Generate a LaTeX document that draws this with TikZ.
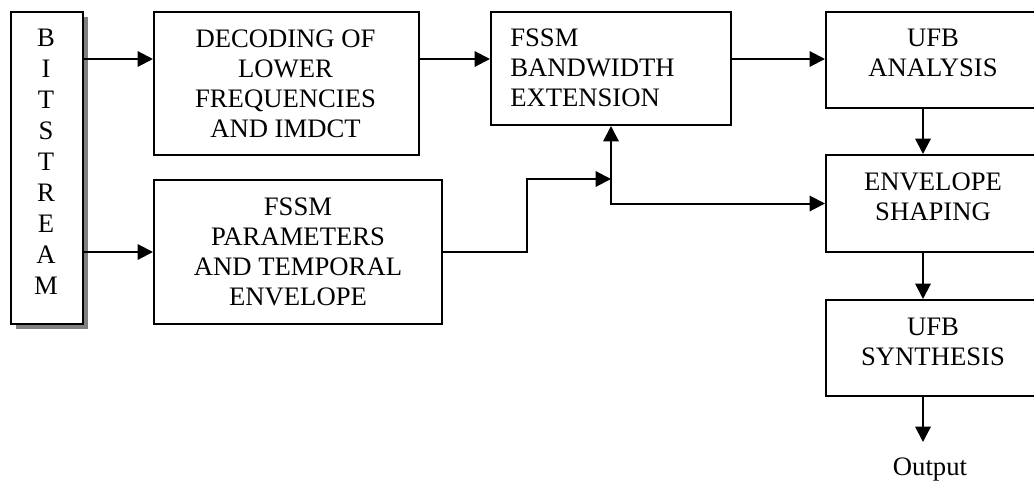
\documentclass[tikz,border=0pt]{standalone}
\usepackage{fontspec}
\setmainfont{Liberation Serif}
\usetikzlibrary{arrows.meta,shadows}
\definecolor{shadowc}{RGB}{128,128,128}
\begin{document}
\begin{tikzpicture}[x=0.75pt,y=-0.75pt,
  box/.style={draw, fill=white, line width=1.5pt, inner sep=0pt, anchor=north west},
  txt/.style={align=center, inner sep=0pt, font=\fontsize{20}{22.5}\selectfont},
  arr/.style={line width=1.5pt, -{Triangle[length=11.5pt,width=11.5pt]}}]
\useasboundingbox (0,0) rectangle (1034,482);
\clip (0,0) rectangle (1034,482);
% boxes
\node[box, minimum width=54pt, minimum height=234pt,
  drop shadow={shadow xshift=4pt, shadow yshift=-4pt, fill=shadowc, opacity=1}] (bits) at (10,11) {};
\node[box, minimum width=198.75pt, minimum height=107.25pt] (dec) at (153,11) {};
\node[box, minimum width=216pt, minimum height=108pt] (par) at (153,179) {};
\node[box, minimum width=180pt, minimum height=84.75pt] (bwe) at (490,11) {};
\node[box, minimum width=162pt, minimum height=72pt] (ana) at (825,11) {};
\node[box, minimum width=162pt, minimum height=72.75pt] (env) at (825,154) {};
\node[box, minimum width=162pt, minimum height=72pt] (syn) at (825,299) {};
% texts
\node[txt, font=\fontsize{20}{23.25}\selectfont] (bitsT) at (46,161.5) {B\\I\\T\\S\\T\\R\\E\\A\\M};
\node[txt] (decT) at (285.5,84) {DECODING OF\\LOWER\\FREQUENCIES\\AND IMDCT};
\node[txt] (parT) at (298,252) {FSSM\\PARAMETERS\\AND TEMPORAL\\ENVELOPE};
\node[txt, align=left, anchor=west] (bweT) at (510,68) {FSSM\\BANDWIDTH\\EXTENSION};
\node[txt] (anaT) at (933,53) {UFB\\ANALYSIS};
\node[txt] (envT) at (933,197) {ENVELOPE\\SHAPING};
\node[txt] (synT) at (933,342) {UFB\\SYNTHESIS};
\node[txt, inner xsep=0pt, inner ysep=12pt, anchor=north] (out) at (930,442) {Output};
% connectors
\coordinate (r1) at (0,59);
\coordinate (cx) at (923,0);
\coordinate (j) at (bwe.south |- par.north);
\draw[arr] (bits.east |- r1) -- (dec.west |- r1);
\draw[arr] (bits.east |- par.west) -- (par.west);
\draw[arr] (dec.east |- r1) -- (bwe.west |- r1);
\draw[arr] (bwe.east |- r1) -- (ana.west |- r1);
\draw[arr] (par.east) -- ++(84,0) |- (j);
\draw[arr] (j) -- (bwe.south);
\draw[arr] (j) |- (env.west);
\draw[arr] (ana.south -| cx) -- (env.north -| cx);
\draw[arr] (env.south -| cx) -- (syn.north -| cx);
\draw[arr] (syn.south -| cx) -- (out.north -| cx);
\end{tikzpicture}
\end{document}
